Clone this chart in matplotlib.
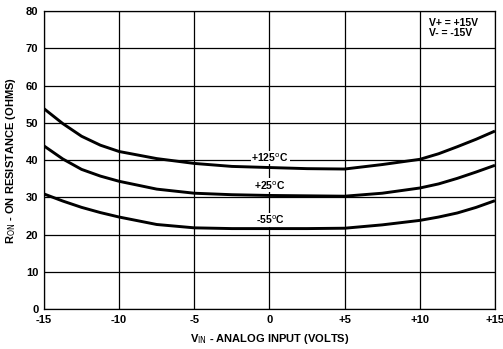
import matplotlib
matplotlib.use("Agg")
import matplotlib.pyplot as plt

plt.rcParams['font.family'] = ['Liberation Sans', 'DejaVu Sans']

vin = [-15, -13.75, -12.5, -11.25, -10, -7.5, -5, -2.5, 0, 2.5, 5, 7.5, 10, 11.25, 12.5, 13.75, 15]
ron_125 = [53.8, 49.8, 46.4, 44.0, 42.3, 40.4, 39.1, 38.3, 38.0, 37.7, 37.6, 38.8, 40.2, 41.7, 43.6, 45.6, 47.8]
ron_25 = [43.8, 40.3, 37.5, 35.7, 34.3, 32.2, 31.1, 30.7, 30.5, 30.4, 30.3, 31.1, 32.5, 33.6, 35.1, 36.8, 38.6]
ron_m55 = [30.9, 29.0, 27.3, 25.9, 24.7, 22.7, 21.8, 21.6, 21.6, 21.6, 21.7, 22.6, 23.8, 24.7, 25.8, 27.3, 29.1]

xticks = [-15, -10, -5, 0, 5, 10, 15]
xticklabels = ["-15", "-10", "-5", "0", "+5", "+10", "+15"]
yticks = [0, 10, 20, 30, 40, 50, 60, 70, 80]

fig = plt.figure(figsize=(5.03, 3.49), dpi=100)
ax = fig.add_axes([0.0875, 0.1146, 0.8965, 0.8534])

for x in xticks:
    ax.axvline(x, color='black', lw=0.9, zorder=1)
for y in yticks:
    ax.axhline(y, color='black', lw=0.9, zorder=1)

for series in (ron_125, ron_25, ron_m55):
    ax.plot(vin, series, color='black', lw=2.1, solid_capstyle='butt',
            solid_joinstyle='round', zorder=3)

ax.set_xlim(-15, 15)
ax.set_ylim(0, 80)
ax.set_xticks(xticks)
ax.set_xticklabels(xticklabels)
ax.set_yticks(yticks)
ax.tick_params(length=0, labelsize=8, pad=4)
for lbl in ax.get_xticklabels() + ax.get_yticklabels():
    lbl.set_fontweight('bold')
for s in ax.spines.values():
    s.set_linewidth(0.9)

tkw = dict(fontsize=7.5, fontweight='bold', ha='left', va='center', zorder=4)
ax.text(-1.2, 40.7, r"+125$^{\mathrm{o}}$C", bbox=dict(fc='white', ec='none', pad=0.5), **tkw)
ax.text(-1.0, 33.2, r"+25$^{\mathrm{o}}$C", bbox=dict(fc='white', ec='none', pad=0.5), **tkw)
ax.text(-0.9, 24.0, r"-55$^{\mathrm{o}}$C", bbox=dict(fc='white', ec='none', pad=0.5), **tkw)

ax.text(10.6, 75.5, "V+ = +15V\nV- = -15V", fontsize=7.5, fontweight='bold',
        ha='left', va='center', linespacing=1.1,
        bbox=dict(fc='white', ec='none', pad=1.0), zorder=4)

ax.set_xlabel(r"V$_{\mathrm{IN}}$ - ANALOG INPUT (VOLTS)", fontsize=8, fontweight='bold', labelpad=5)
ax.set_ylabel(r"R$_{\mathrm{ON}}$ - ON RESISTANCE (OHMS)", fontsize=8, fontweight='bold', labelpad=6)

fig.savefig("out.png", dpi=100)
